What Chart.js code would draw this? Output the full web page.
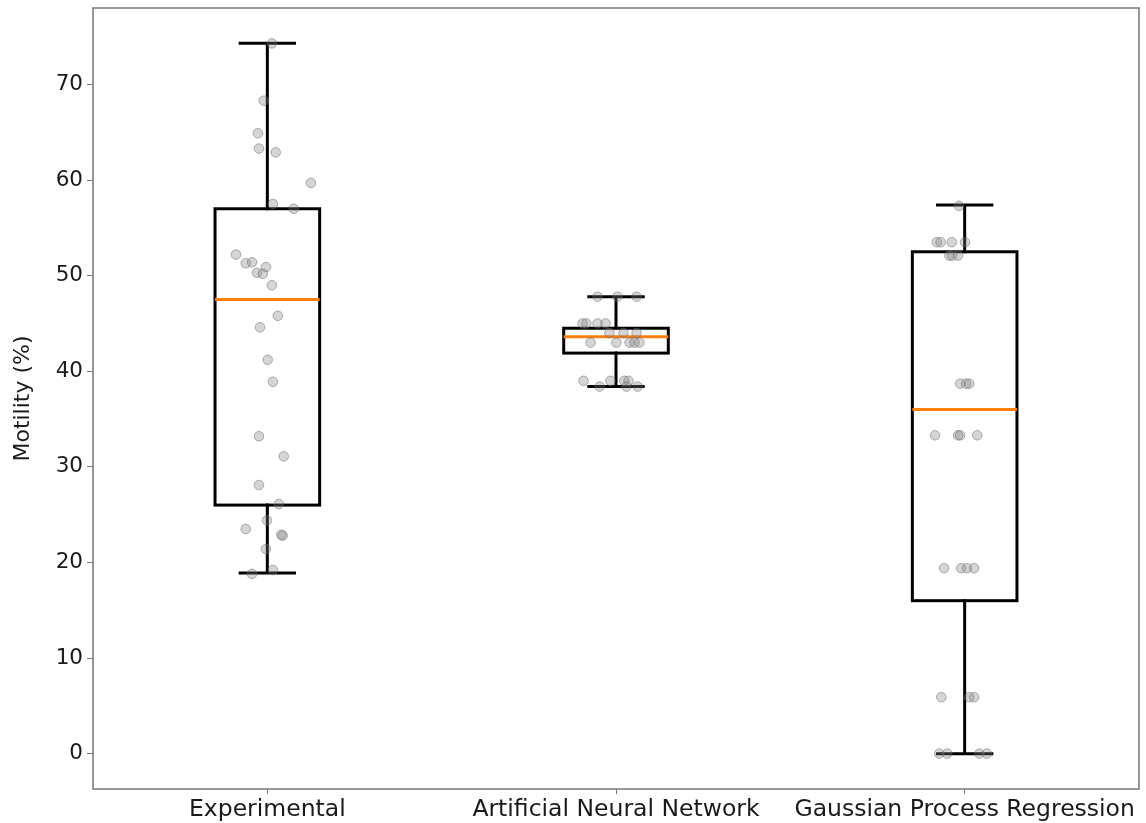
<!DOCTYPE html>
<html>
<head>
<meta charset="utf-8">
<title>Motility box plot</title>
<script src="https://cdn.jsdelivr.net/npm/chart.js@4/dist/chart.umd.min.js"></script>
<style>
  html, body { margin: 0; padding: 0; background: #fff; }
  canvas { display: block; }
</style>
</head>
<body>
<canvas id="chart" width="1146" height="823"></canvas>
<script>
const categories = ['Experimental', 'Artificial Neural Network', 'Gaussian Process Regression'];
const yTicks = [0, 10, 20, 30, 40, 50, 60, 70];

// box stats per category: lower whisker, q1, median, q3, upper whisker
const whiskerLow = [18.9, 38.4, 0.0];
const q1 = [26.0, 41.9, 16.0];
const median = [47.5, 43.6, 36.0];
const q3 = [57.0, 44.5, 52.5];
const whiskerHigh = [74.3, 47.8, 57.4];

// scatter points (values) and horizontal jitter
const expValues = [74.3, 68.3, 64.9, 63.3, 62.9, 59.7, 57.5, 57.0, 52.2, 51.3, 51.4, 50.3, 50.9, 50.2, 49.0,
  45.8, 44.6, 41.2, 38.9, 33.2, 31.1, 28.1, 26.1, 24.4, 23.5, 22.8, 22.9, 21.4, 18.8, 19.2];
const expJitter = [0.013, -0.010, -0.027, -0.024, 0.024, 0.125, 0.016, 0.076, -0.090, -0.062, -0.044, -0.030, -0.004, -0.013, 0.013,
  0.030, -0.021, 0.001, 0.016, -0.024, 0.047, -0.024, 0.033, -0.001, -0.062, 0.044, 0.040, -0.004, -0.044, 0.016];

const annValues = [47.8, 47.8, 47.8, 45.0, 45.0, 45.0, 45.0, 44.0, 44.0, 44.0, 43.0, 43.0, 43.0, 43.0, 43.0,
  39.0, 39.0, 39.0, 39.0, 38.4, 38.4, 38.4];
const annJitter = [-0.053, 0.004, 0.059, -0.096, -0.085, -0.053, -0.030, -0.019, 0.021, 0.059, -0.073, 0.001, 0.039, 0.053, 0.067,
  -0.093, -0.016, 0.024, 0.036, -0.047, 0.030, 0.062];

const gprValues = [57.3, 53.5, 53.5, 53.5, 53.5, 52.1, 52.1, 52.1, 38.7, 38.7, 38.7, 33.3, 33.3, 33.3, 33.3,
  19.4, 19.4, 19.4, 19.4, 5.9, 5.9, 5.9, 0.0, 0.0, 0.0, 0.0];
const gprJitter = [-0.016, -0.080, -0.069, -0.037, 0.001, -0.044, -0.036, -0.019, -0.013, 0.004, 0.013, -0.085, -0.019, -0.013, 0.036,
  -0.059, -0.010, 0.007, 0.027, -0.067, 0.013, 0.027, -0.073, -0.050, 0.042, 0.064];

const pointValues = [expValues, annValues, gprValues];
const pointJitter = [expJitter, annJitter, gprJitter];

const BOX_HALF = 0.15;
const CAP_HALF = 0.078;

const boxPlugin = {
  id: 'boxPlugin',
  beforeDatasetsDraw(chart) {
    const ctx = chart.ctx;
    const xs = chart.scales.x;
    const ys = chart.scales.y;
    ctx.save();
    ctx.lineWidth = 3;
    ctx.lineCap = 'square';
    ctx.lineJoin = 'miter';
    categories.forEach((c, i) => {
      const pos = i + 1;
      const xl = xs.getPixelForValue(pos - BOX_HALF);
      const xr = xs.getPixelForValue(pos + BOX_HALF);
      const xc = xs.getPixelForValue(pos);
      const cl = xs.getPixelForValue(pos - CAP_HALF);
      const cr = xs.getPixelForValue(pos + CAP_HALF);
      const yLo = ys.getPixelForValue(whiskerLow[i]);
      const yQ1 = ys.getPixelForValue(q1[i]);
      const yMed = ys.getPixelForValue(median[i]);
      const yQ3 = ys.getPixelForValue(q3[i]);
      const yHi = ys.getPixelForValue(whiskerHigh[i]);

      ctx.strokeStyle = '#000';
      ctx.beginPath();
      ctx.moveTo(xc, yQ1); ctx.lineTo(xc, yLo);
      ctx.moveTo(xc, yQ3); ctx.lineTo(xc, yHi);
      ctx.moveTo(cl, yLo); ctx.lineTo(cr, yLo);
      ctx.moveTo(cl, yHi); ctx.lineTo(cr, yHi);
      ctx.stroke();
      ctx.strokeRect(xl, yQ3, xr - xl, yQ1 - yQ3);

      ctx.strokeStyle = '#ff7f0e';
      ctx.lineCap = 'butt';
      ctx.beginPath();
      ctx.moveTo(xl, yMed); ctx.lineTo(xr, yMed);
      ctx.stroke();
      ctx.lineCap = 'square';
    });
    ctx.restore();
  },
  afterDraw(chart) {
    const a = chart.chartArea;
    const ctx = chart.ctx;
    ctx.save();
    ctx.strokeStyle = '#777';
    ctx.lineWidth = 1.5;
    ctx.strokeRect(a.left, a.top, a.right - a.left, a.bottom - a.top);
    ctx.restore();
  }
};

const datasets = categories.map((c, i) => ({
  label: c,
  data: pointValues[i].map((v, j) => ({ x: i + 1 + pointJitter[i][j], y: v })),
  backgroundColor: 'rgba(128,128,128,0.33)',
  borderColor: 'rgba(105,105,105,0.5)',
  borderWidth: 1,
  pointRadius: 4.8
}));

Chart.defaults.font.family = '"DejaVu Sans", sans-serif';
Chart.defaults.color = '#1a1a1a';

new Chart(document.getElementById('chart'), {
  type: 'scatter',
  data: { datasets: datasets },
  options: {
    responsive: false,
    animation: false,
    layout: { padding: { top: 8, right: 7, left: 0, bottom: 0 } },
    plugins: {
      legend: { display: false },
      tooltip: { enabled: false }
    },
    scales: {
      x: {
        type: 'linear',
        min: 0.5,
        max: 3.5,
        afterBuildTicks: (scale) => { scale.ticks = categories.map((c, i) => ({ value: i + 1 })); },
        afterFit: (scale) => {
          scale.height = 34;
          scale.paddingLeft = 0;
          scale.paddingRight = 0;
        },
        ticks: {
          autoSkip: false,
          maxRotation: 0,
          padding: 2,
          font: { size: 23.5 },
          callback: (v) => categories[Math.round(v) - 1]
        },
        grid: { drawOnChartArea: false, drawTicks: true, tickLength: 5, color: '#777' },
        border: { display: false }
      },
      y: {
        min: -3.7,
        max: 78,
        afterBuildTicks: (scale) => { scale.ticks = yTicks.map(v => ({ value: v })); },
        afterFit: (scale) => {
          scale.width = 93;
          scale.paddingTop = 0;
          scale.paddingBottom = 0;
        },
        ticks: { padding: 4, font: { size: 21.5 } },
        grid: { drawOnChartArea: false, drawTicks: true, tickLength: 6, color: '#777' },
        border: { display: false },
        title: {
          display: true,
          text: 'Motility (%)',
          font: { size: 22 },
          padding: { top: 10, bottom: 0 }
        }
      }
    }
  },
  plugins: [boxPlugin]
});
</script>
</body>
</html>
